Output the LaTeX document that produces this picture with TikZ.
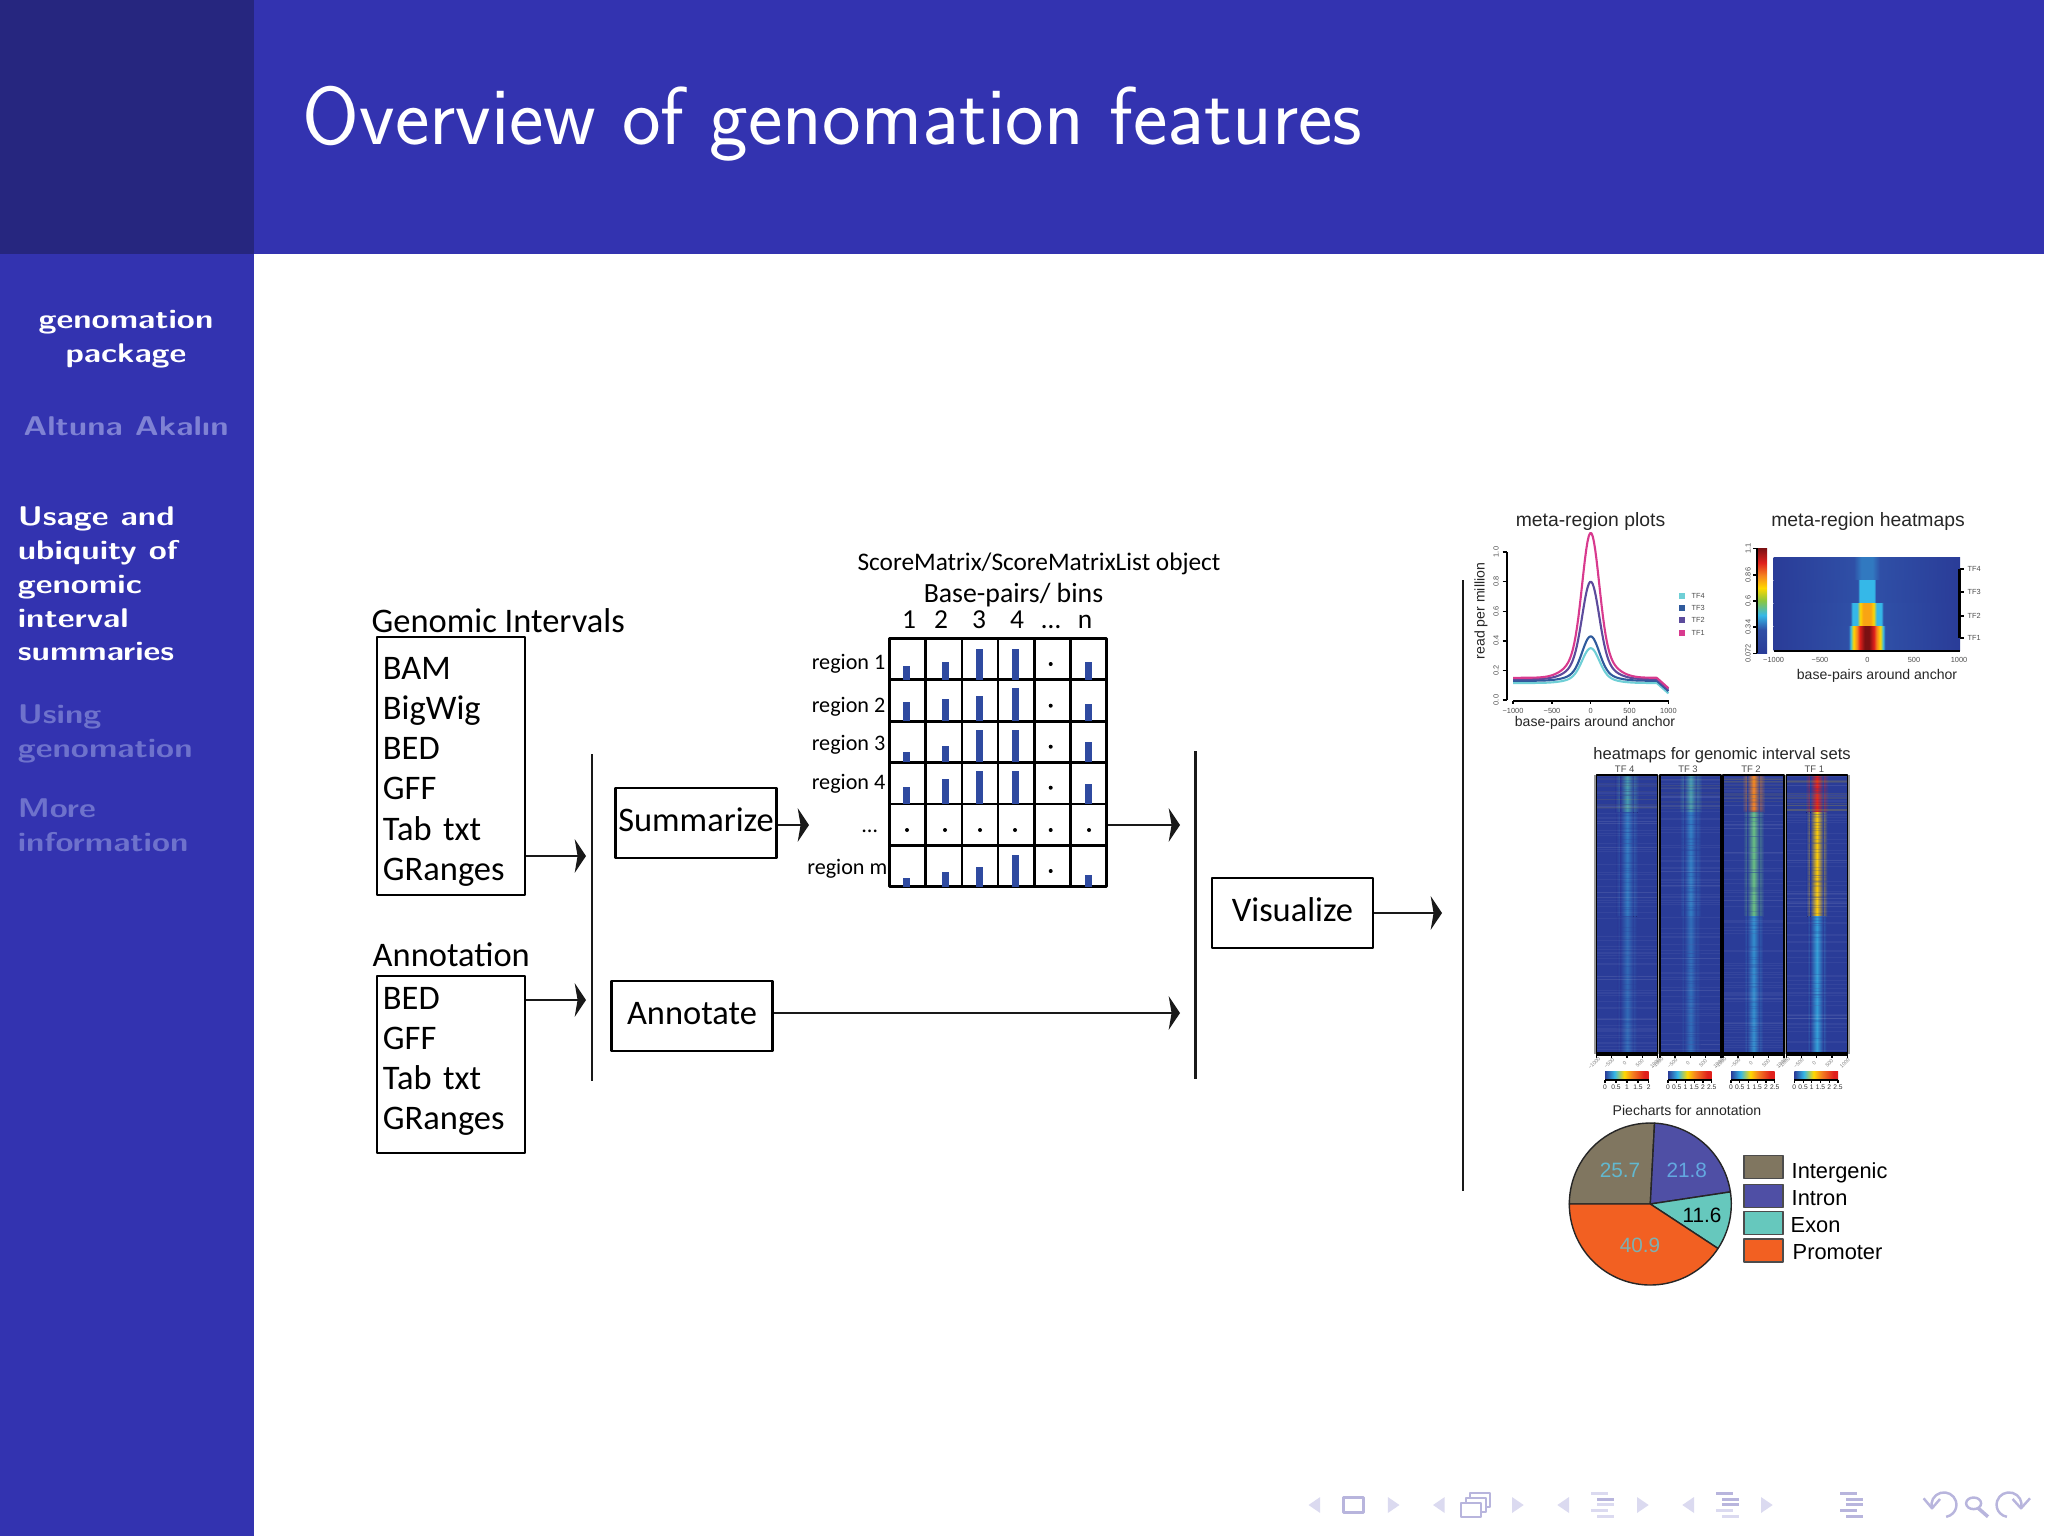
\documentclass[tikz,border=0pt]{standalone}
\usepackage{fontspec}
\newfontfamily\diagfont{Carlito}
\newfontfamily\plotfont{Liberation Sans}
\usetikzlibrary{arrows.meta}
\definecolor{barblue}{HTML}{3333B0}
\definecolor{cornerblue}{HTML}{26267F}
\definecolor{sidedim}{HTML}{6E72CC}
\definecolor{sidemid}{HTML}{7F82D4}
\definecolor{binblue}{HTML}{2F4AA0}
\definecolor{hmblue}{HTML}{2A3C98}
\definecolor{hmedge}{HTML}{2F4FA6}
\definecolor{jetcyan}{HTML}{35B8E8}
\definecolor{jetgreen}{HTML}{8CC63F}
\definecolor{jetyellow}{HTML}{FFD800}
\definecolor{jetorange}{HTML}{F58220}
\definecolor{jetred}{HTML}{E0201C}
\definecolor{jetdark}{HTML}{7A1012}
\definecolor{tffour}{HTML}{6FCFD6}
\definecolor{tfthree}{HTML}{2F5A9C}
\definecolor{tftwo}{HTML}{5C4B9C}
\definecolor{tfone}{HTML}{D83A8E}
\definecolor{pieint}{HTML}{807660}
\definecolor{pieintron}{HTML}{4F4FA5}
\definecolor{pieexon}{HTML}{66C8BD}
\definecolor{piepro}{HTML}{F26022}
\definecolor{pievala}{HTML}{62B8CF}
\definecolor{pievalb}{HTML}{63A8E0}
\definecolor{pievalc}{HTML}{7FB0B0}
\definecolor{navsolid}{HTML}{B8B5DD}
\definecolor{navfaint}{HTML}{DBDAF0}
\pgfdeclarehorizontalshading{jeth}{100bp}{color(0bp)=(hmblue); color(25bp)=(hmblue); color(36bp)=(jetcyan); color(47bp)=(jetyellow); color(56bp)=(jetorange); color(70bp)=(jetred); color(75bp)=(jetred); color(100bp)=(jetred)}
\pgfdeclareverticalshading{jetv}{100bp}{color(0bp)=(hmblue); color(25bp)=(hmblue); color(36bp)=(hmedge); color(43bp)=(jetcyan); color(50bp)=(jetgreen); color(56bp)=(jetyellow); color(62bp)=(jetorange); color(68bp)=(jetred); color(75bp)=(jetdark); color(100bp)=(jetdark)}
\pgfdeclarehorizontalshading{rowtfd}{100bp}{color(0bp)=(hmblue); color(25bp)=(hmblue); color(46.5bp)=(hmedge); color(48.5bp)=(hmedge!60!jetcyan); color(51.5bp)=(hmedge!60!jetcyan); color(53.5bp)=(hmedge); color(75bp)=(hmblue); color(100bp)=(hmblue)}
\pgfdeclarehorizontalshading{rowtfc}{100bp}{color(0bp)=(hmblue); color(25bp)=(hmblue); color(47.6bp)=(hmedge); color(48bp)=(jetcyan); color(52bp)=(jetcyan); color(52.4bp)=(hmedge); color(75bp)=(hmblue); color(100bp)=(hmblue)}
\pgfdeclarehorizontalshading{rowtfb}{100bp}{color(0bp)=(hmblue); color(25bp)=(hmblue); color(45.6bp)=(hmedge); color(46.1bp)=(jetcyan); color(47.4bp)=(jetcyan); color(48.2bp)=(jetyellow); color(49bp)=(jetorange!60!jetyellow); color(51bp)=(jetorange!60!jetyellow); color(51.8bp)=(jetyellow); color(52.6bp)=(jetcyan); color(53.9bp)=(jetcyan); color(54.4bp)=(hmedge); color(75bp)=(hmblue); color(100bp)=(hmblue)}
\pgfdeclarehorizontalshading{rowtfa}{100bp}{color(0bp)=(hmblue); color(25bp)=(hmblue); color(45.1bp)=(hmedge); color(45.6bp)=(jetcyan); color(46.4bp)=(jetyellow); color(47.4bp)=(jetorange); color(48.1bp)=(jetred); color(49.4bp)=(jetdark); color(50.6bp)=(jetdark); color(51.9bp)=(jetred); color(52.6bp)=(jetorange); color(53.6bp)=(jetyellow); color(54.4bp)=(jetcyan); color(54.9bp)=(hmedge); color(75bp)=(hmblue); color(100bp)=(hmblue)}
\tikzset{
  flow/.style={line width=.65pt, black!90, -{Stealth[length=3.2pt, width=9.5pt, inset=.8pt]}},
  rule/.style={line width=.65pt, black!90},
  listbox/.style={draw, line width=.7pt, minimum width=1.48cm, text width=1.36cm, inner sep=0pt, align=left, font=\diagfont\fontsize{9.8}{11.4}\selectfont},
  stepbox/.style={draw, line width=.7pt, minimum width=1.61cm, minimum height=.7cm, inner sep=0pt, text depth=1.7pt, font=\diagfont\fontsize{9.8}{11}\selectfont},
  head/.style={font=\diagfont\fontsize{9.8}{11}\selectfont},
  small/.style={font=\diagfont\fontsize{6.3}{8}\selectfont},
  tick/.style={text=black!70, inner sep=0pt, font=\plotfont\fontsize{2.1}{3}\selectfont},
  plottext/.style={inner sep=0pt, text=black!85, font=\plotfont\fontsize{4}{5}\selectfont},
  side/.style={anchor=base west, inner sep=0pt, xscale=1.21, font=\sffamily\bfseries\fontsize{7.7}{9}\selectfont},
  nav/.style={fill=navfaint, draw=none}
}
\begin{document}
\begin{tikzpicture}[x=.01cm, y=-.01cm, line join=round, >=stealth,
    declare function={tfcurve(\p,\b,\a)=\b+\a*(.8*exp(-(\p/150)^2)+.2*exp(-(\p/320)^2))-.07*max(0,(\p-850)/150);}]
  \useasboundingbox (0,0) rectangle (2048,1536);
  \fill[barblue] (0,0) rectangle (2044,254);
  \fill[barblue] (0,254) rectangle (254,1536);
  \fill[cornerblue] (0,0) rectangle (254,254);
  \node[text=white, anchor=base west, inner sep=0pt, font=\sffamily\fontsize{23.35}{28}\selectfont] (title) at (302,144) {Overview of genomation features};

  \node[side, anchor=base, text=white] (pkga) at (126,328) {genomation};
  \node[side, anchor=base, text=white] (pkgb) at (126,362) {package};
  \node[side, anchor=base, text=sidemid] (author) at (126,435) {Altuna Akalın};
  \foreach \y/\s [count=\i] in {525/Usage and,559/ubiquity of,593/genomic,627/interval,660/summaries}
    \node[side, text=white] (usage\i) at (17,\y) {\s};
  \foreach \y/\s [count=\i] in {723/Using,757/genomation,817/More,851/information}
    \node[side, text=sidedim] (other\i) at (17,\y) {\s};

  % input files
  \node[head, anchor=west, inner sep=0pt] (gihead) at (371,621) {Genomic Intervals};
  \node[listbox, minimum height=2.58cm] (gibox) at (451,766) {\rule{0pt}{9.6pt}BAM\\BigWig\\BED\\GFF\\Tab txt\\GRanges};
  \node[head, anchor=west, inner sep=0pt] (annhead) at (372,955) {Annotation};
  \node[listbox, minimum height=1.77cm] (annbox) at (451,1064.5) {BED\\GFF\\Tab txt\\GRanges\rule[-3.5pt]{0pt}{0pt}};

  \coordinate (intop) at (592,754);
  \coordinate (inbot) at (592,1081);
  \draw[rule] (intop) -- (inbot);
  \coordinate (gitip) at (586,856);
  \coordinate (anntip) at (586,1000);
  \draw[flow] (gibox.east |- gitip) -- (gitip);
  \draw[flow] (annbox.east |- anntip) -- (anntip);

  \node[stepbox] (sumbox) at (696,823) {Summarize};
  \node[stepbox] (annotbox) at (692,1016) {Annotate};
  \node[stepbox] (visbox) at (1292.5,913) {Visualize};
  \coordinate (sumtip) at (809,825);
  \draw[flow] (sumbox.east |- sumtip) -- (sumtip);

  % score matrix
  \node[small, font=\diagfont\fontsize{7.2}{8}\selectfont, inner sep=0pt] (objhead) at (1039,564) {ScoreMatrix/ScoreMatrixList object};
  \node[small, font=\diagfont\fontsize{7.9}{9}\selectfont, inner sep=0pt] (binhead) at (1013.5,595.5) {Base-pairs/ bins};
  \foreach \x/\s [count=\i] in {909/1,941/2,979/3,1017/4,1051/\ldots,1085/n}
    \node[small, anchor=base, font=\diagfont\fontsize{7.8}{9}\selectfont, inner sep=0pt] (col\i) at (\x,628) {\s};
  \foreach \y/\s [count=\i] in {664/region 1,707/region 2,744.5/region 3,783.5/region 4}
    \node[small, anchor=east, inner sep=0pt] (row\i) at (886,\y) {\s};
  \node[small, anchor=base east, inner sep=0pt] (row5) at (878,832) {\ldots};
  \node[small, anchor=east, inner sep=0pt] (row6) at (888,868.5) {region m};

  \node[draw, line width=.8pt, minimum width=2.174cm, minimum height=2.48cm, inner sep=0pt] (grid) at (998,762.7) {};
  \foreach \x in {925.7,962,998,1034.7,1070.7}
    \draw[line width=.8pt] (\x,638.7) -- (\x,886.7);
  \foreach \y in {679.7,721.3,762.3,804,845.3}
    \draw[line width=.8pt] (889.3,\y) -- (1106.7,\y);
  \foreach \y/\a/\b/\c/\d/\e in {679.7/14/18/31/31/18, 721.3/19/22/25/33/17, 762.3/10/16/32/32/20, 804/17/25/33/33/20, 886.7/9/15/20/32/12}
    \foreach \x/\h in {906.7/\a, 945/\b, 979.3/\c, 1015.7/\d, 1088.7/\e}
      \fill[binblue] (\x-3.5,\y) rectangle (\x+3.5,\y-\h);
  \foreach \y in {664,705.7,746.7,787.7,871}
    \fill (1050.7,\y) circle (2);
  \foreach \x in {907,945,980,1015,1050.7,1089}
    \fill (\x,830) circle (2);

  \coordinate (outtop) at (1195.5,751);
  \coordinate (outbot) at (1195.5,1079);
  \draw[rule] (outtop) -- (outbot);
  \coordinate (gridtip) at (1180,825);
  \coordinate (annottip) at (1180,1013);
  \draw[flow] (grid.east |- gridtip) -- (gridtip);
  \draw[flow] (annotbox.east |- annottip) -- (annottip);

  \coordinate (vistop) at (1463,580);
  \coordinate (visbot) at (1463,1191);
  \coordinate (vistip) at (1442,913);
  \draw[rule] (vistop) -- (visbot);
  \draw[flow] (visbox.east) -- (vistip);

  % meta-region plots
  \node[plottext, font=\plotfont\fontsize{5.5}{6}\selectfont] (metaplot) at (1590.5,521) {meta-region plots};
  \node[plottext, rotate=90] (ylabel) at (1481,611) {read per million};
  \node[plottext] (xlabel) at (1595,723) {base-pairs around anchor};
  \draw[line width=.7pt] (1506.8,552) -- (1506.8,700);
  \draw[line width=.7pt] (1513,701) -- (1668.6,701);
  \foreach \y/\s [count=\i] in {700/0.0,670.4/0.2,640.8/0.4,611.2/0.6,581.6/0.8,552/1.0} {
    \draw[line width=.4pt] (1502.5,\y) -- (1506.8,\y);
    \node[tick, rotate=90] (ytick\i) at (1496,\y) {\s};
  }
  \foreach \x/\s [count=\i] in {1513/−1000,1552/−500,1590.7/0,1629.5/500,1668.4/1000} {
    \draw[line width=.4pt] (\x,701) -- (\x,704);
    \node[tick] (xtick\i) at (\x,711) {\s};
  }
  \foreach \c/\b/\a in {tffour/.115/.235, tfthree/.13/.30, tftwo/.14/.66, tfone/.15/.98}
    \draw[\c, line width=.6pt, domain=-1000:1000, samples=120] plot ({1590.7+.0777*\x},{700-148*tfcurve(\x,\b,\a)});
  \foreach \y/\c/\s in {595.7/tffour/TF4, 608/tfthree/TF3, 620.3/tftwo/TF2, 633/tfone/TF1} {
    \fill[\c] (1678.6,\y-3) rectangle (1684.6,\y+3);
    \node[tick, anchor=west] at (1691,\y) {\s};
  }

  % meta-region heatmaps
  \node[plottext, font=\plotfont\fontsize{5.5}{6}\selectfont] (metaheat) at (1868,521) {meta-region heatmaps};
  \node[plottext] (heatx) at (1877,676) {base-pairs around anchor};
  \foreach \s/\a/\b in {rowtfd/557/580, rowtfc/580/603.7, rowtfb/603.7/626.7, rowtfa/626.7/650.7}
    \shade[shading=\s] (1773.6,\a) rectangle (1960,\b);
  \draw[line width=.7pt] (1773.6,651) -- (1960,651);
  \draw[line width=.7pt] (1959.5,569) -- (1959.5,638);
  \foreach \x/\s [count=\i] in {1773.6/−1000,1820/−500,1867.5/0,1914/500,1959/1000}
    \node[tick] (hxtick\i) at (\x,659.5) {\s};
  \foreach \y/\s [count=\i] in {569/TF4,592/TF3,616/TF2,638/TF1} {
    \draw[line width=.4pt] (1959.5,\y) -- (1963.5,\y);
    \node[tick, anchor=west] (hytick\i) at (1967,\y) {\s};
  }
  \shade[shading=jetv] (1757,548) rectangle (1767,653);
  \draw[line width=.7pt] (1757,548) -- (1757,653);
  \foreach \y/\s [count=\i] in {548.7/1.1,575/0.86,601/0.6,627/0.34,653.5/0.072} {
    \draw[line width=.4pt] (1753,\y) -- (1757,\y);
    \node[tick, rotate=90] (cbtick\i) at (1748,\y) {\s};
  }

  % heatmaps for sets
  \node[plottext, font=\plotfont\fontsize{4.72}{6}\selectfont] (sethead) at (1722,755) {heatmaps for genomic interval sets};
  \fill[black!40] (1594,775) rectangle (1850,1054);
  \pgfmathsetseed{7}
  \foreach \px/\s/\ca/\cb/\cc/\op [count=\i] in {
    1596.7/TF 4/jetcyan!70!jetgreen!70!hmedge/hmedge!60!jetcyan/hmedge!75!jetcyan/.05,
    1660/TF 3/jetcyan!70!jetgreen!70!hmedge/hmedge!55!jetcyan/hmedge!70!jetcyan/.05,
    1723/TF 2/jetorange/jetgreen!60!jetcyan/hmedge!40!jetcyan/.08,
    1786.3/TF 1/jetred/jetyellow!85!jetorange/jetcyan!75!hmedge/.10} {
    \fill[hmblue] (\px,775) rectangle ++(61,279);
    \fill[left color=hmblue, right color=hmblue, middle color=\ca] (\px+19,775) rectangle (\px+42,812);
    \fill[left color=hmblue, right color=hmblue, middle color=\cb] (\px+20,812) rectangle (\px+41,916);
    \fill[left color=hmblue, right color=hmblue, middle color=\cc] (\px+21,916) rectangle (\px+40,1054);
    \foreach \a/\b/\m in {775/812/\ca, 812/916/\cb, 916/1054/\cc}
      \fill[left color=\m!0!hmblue, right color=\m!0!hmblue, middle color=\m] (\px+24,\a) rectangle (\px+37,\b);
    \foreach \k in {1,...,70} {
      \pgfmathsetmacro\yy{775+279*rnd}
      \draw[white, opacity=.05, line width=.25pt] (\px,\yy) -- ++(61,0);
    }
    \foreach \k in {1,...,60} {
      \pgfmathsetmacro\yy{775+279*rnd}
      \draw[hmblue, opacity=.2, line width=.3pt] (\px+20,\yy) -- ++(21,0);
    }
    \foreach \k in {1,...,14} {
      \pgfmathsetmacro\yy{775+37*rnd}
      \draw[jetyellow, opacity=\op, line width=.3pt] (\px,\yy) -- ++(61,0);
    }
    \draw[line width=.35pt] (\px,775) rectangle ++(61,279);
    \node[tick, font=\plotfont\fontsize{2.7}{3}\selectfont] (settf\i) at (\px+28,769.5) {\s};
    \draw[line width=.9pt] (\px,1054) -- ++(61,0);
    \foreach \d/\m in {0/−1000,15/−500,30.3/0,45.6/500,61/1000} {
      \draw[line width=.4pt] (\px+\d,1054) -- ++(0,3.5);
      \node[tick, rotate=45, text=black!50, font=\plotfont\fontsize{1.5}{2}\selectfont] at (\px+\d-2.5,1063) {\m};
    }
  }
  \foreach \cx/\ticks [count=\i] in {
    1605/{0/0,11/0.5,22/1,33/1.5,43.7/2},
    1668/{0/0,8.8/0.5,17.5/1,26.2/1.5,35/2,43.7/2.5},
    1731/{0/0,8.8/0.5,17.5/1,26.2/1.5,35/2,43.7/2.5},
    1794.3/{0/0,8.8/0.5,17.5/1,26.2/1.5,35/2,43.7/2.5}} {
    \shade[shading=jeth] (\cx,1071.7) rectangle ++(43.7,8);
    \draw[line width=.5pt] (\cx,1079.7) -- ++(43.7,0);
    \foreach \d/\m in \ticks {
      \draw[line width=.3pt] (\cx+\d,1079.7) -- ++(0,3);
      \node[tick, text=black!80, font=\plotfont\fontsize{1.9}{3}\selectfont] at (\cx+\d,1087) {\m};
    }
  }

  % piechart
  \node[plottext, font=\plotfont\fontsize{4}{5}\selectfont] (piehead) at (1687,1110) {Piecharts for annotation};
  \coordinate (piec) at (1650.3,1204);
  \foreach \a/\b/\c in {-180/-87/pieint, -87/-8.6/pieintron, -8.6/33.3/pieexon, 33.3/180/piepro}
    \filldraw[fill=\c, draw=black!85, line width=.4pt] (piec) -- ++(\a:81) arc[start angle=\a, end angle=\b, radius=81] -- cycle;
  \foreach \x/\y/\c/\s [count=\i] in {1620/1170.7/pievala/25.7, 1686.7/1170.7/pievalb/21.8, 1702/1215/black/11.6, 1640/1245/pievalc/40.9}
    \node[text=\c, inner sep=0pt, font=\plotfont\fontsize{5.9}{7}\selectfont] (pieval\i) at (\x,\y) {\s};
  \foreach \y/\c/\x/\t/\s [count=\i] in {1167/pieint/1791/1172.6/Intergenic, 1196/pieintron/1791/1197.7/Intron, 1223/pieexon/1790/1224.7/Exon, 1250.5/piepro/1792/1252.2/Promoter} {
    \filldraw[fill=\c, draw=black!70, line width=.5pt] (1743.7,\y-11.5) rectangle (1783.3,\y+11.5);
    \node[anchor=west, inner sep=0pt, font=\plotfont\fontsize{6.2}{7}\selectfont] (pieleg\i) at (\x,\t) {\s};
  }

  % navigation symbols
  \foreach \x in {1320.2,1444.7,1569,1694}
    \fill[nav] (\x,1497) -- (\x,1513) -- (\x-11.7,1505) -- cycle;
  \foreach \x in {1387.8,1512,1637,1761}
    \fill[nav] (\x,1497) -- (\x,1513) -- (\x+11.7,1505) -- cycle;
  \draw[navsolid, line width=.8pt] (1343.5,1497.7) rectangle (1363.5,1512.3);
  \foreach \d in {2,1,0}
    \filldraw[navsolid, fill=white, line width=.6pt] (1460.8+4.8*\d,1503.2-5*\d) rectangle ++(20,14);
  \foreach \ox/\ca/\cb/\cc/\cd/\ce in {1591/navfaint/navsolid/navfaint/navfaint/navfaint, 1715.8/navsolid/navsolid/navsolid/navfaint/navfaint, 1840/navsolid/navsolid/navsolid/navsolid/navsolid} {
    \fill[\ca] (\ox,1492.2) rectangle ++(17,3);
    \fill[\cb] (\ox+6,1497.8) rectangle ++(17,3);
    \fill[\cc] (\ox+6,1503.2) rectangle ++(17,3);
    \fill[\cd] (\ox,1508.8) rectangle ++(17,3);
    \fill[\ce] (\ox+6,1514.5) rectangle ++(17,3);
  }
  \draw[navsolid, line width=.7pt] (1923.6,1498.3) -- (1932,1508.3) -- (1940,1499);
  \draw[navsolid, line width=.7pt] (1932,1508.3) arc[start angle=163, end angle=440, x radius=12.5, y radius=12.3];
  \draw[navsolid, line width=.7pt] (1973.6,1503.3) circle[x radius=7.5, y radius=5.8];
  \draw[navsolid, line width=1pt] (1978,1508) -- (1988,1516.7);
  \draw[navsolid, line width=.7pt] (2012.6,1499) -- (2021,1508.3) -- (2030,1498.3);
  \draw[navsolid, line width=.7pt] (2021,1508.3) arc[start angle=17, end angle=-260, x radius=12.5, y radius=12.3];
\end{tikzpicture}
\end{document}
